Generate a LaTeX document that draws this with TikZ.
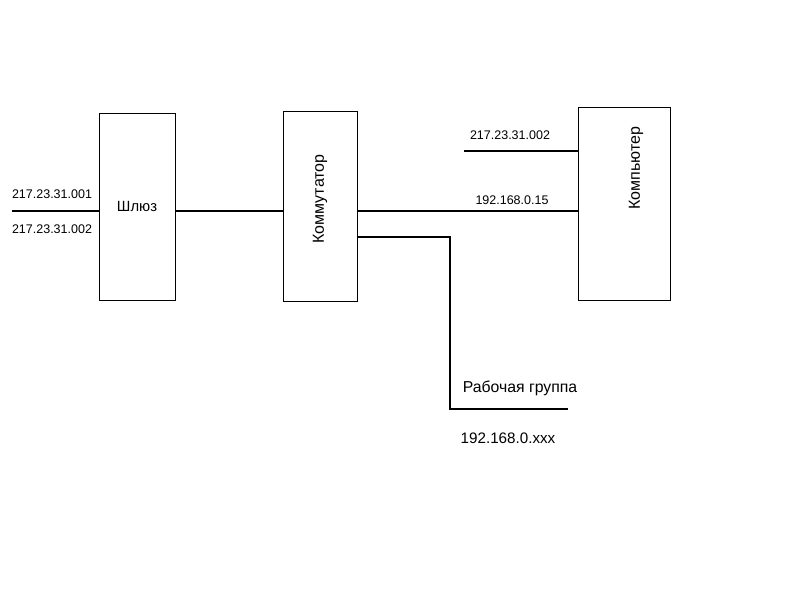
\documentclass[tikz,border=0pt]{standalone}
\usepackage{fontspec}
\setmainfont{Liberation Sans}
\usetikzlibrary{positioning}

\begin{document}
\begin{tikzpicture}[x=1pt, y=-1pt]
\tikzstyle{device} = [rectangle, draw=black, line width=0.8pt, inner sep=0pt, text centered]
\tikzstyle{addr} = [font=\fontsize{12.5}{14}\selectfont, inner sep=0pt]
\tikzstyle{devname} = [font=\fontsize{14.8}{16}\selectfont, inner sep=0pt]
\tikzstyle{wire} = [line width=2pt]
\useasboundingbox (0,0) rectangle (800,600);
\node (GW) [device, minimum width=76pt, minimum height=187pt, devname] at (137,206.5) {Шлюз};
\node (SW) [device, minimum width=74pt, minimum height=190pt] at (320,206) {};
\node (PC) [device, minimum width=92pt, minimum height=193pt] at (624,203.5) {};
\node (SWtext) [devname, rotate=90, font=\fontsize{16}{18}\selectfont] at (320,199) {Коммутатор};
\node (PCtext) [devname, rotate=90, font=\fontsize{16}{18}\selectfont] at (636,168) {Компьютер};

\coordinate (in) at (12,211);
\coordinate (ext) at (464,151);
\coordinate (bend) at (450,237);
\coordinate (wg) at (450,409);
\coordinate (wgend) at (568,409);

\draw [wire] (in) -- (GW.west |- in);
\draw [wire] (GW.east |- in) -- (SW.west |- in);
\draw [wire] (SW.east |- in) -- (PC.west |- in);
\draw [wire] (ext) -- (PC.west |- ext);
\draw [wire] (SW.east |- bend) -- (bend) -- (wg) -- (wgend);

\node (ipA) [addr] at (52,194) {217.23.31.001};
\node (ipB) [addr] at (52,229) {217.23.31.002};
\node (ipC) [addr] at (510,135) {217.23.31.002};
\node (ipD) [addr] at (512,200) {192.168.0.15};
\node (WG) [devname, font=\fontsize{15.8}{18}\selectfont] at (520,388) {Рабочая группа};
\node (ipE) [devname, font=\fontsize{15.2}{17}\selectfont] at (508,438) {192.168.0.xxx};
\end{tikzpicture}
\end{document}
